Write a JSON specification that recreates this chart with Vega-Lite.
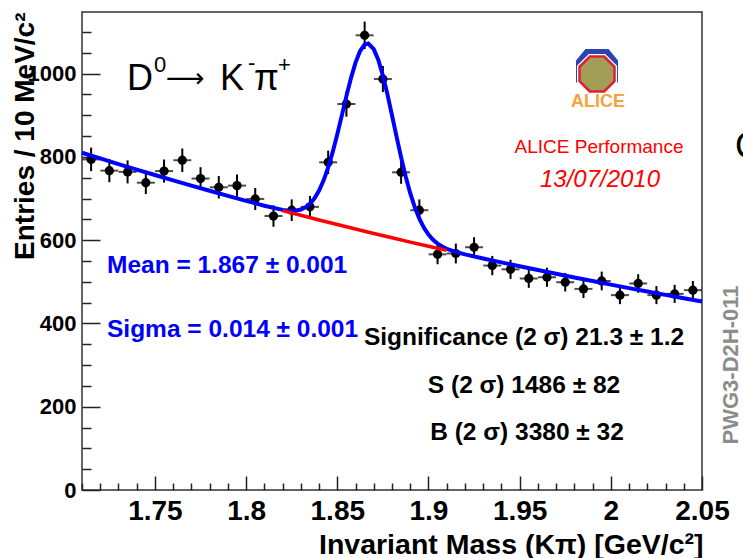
{
  "$schema": "https://vega.github.io/schema/vega-lite/v6.json",
  "width": 620,
  "height": 478,
  "autosize": "none",
  "padding": {"left": 82, "top": 12, "right": 41, "bottom": 68},
  "background": "white",
  "datasets": {
    "points": [
      {"m": 1.715, "n": 794, "err": 28.2},
      {"m": 1.725, "n": 767, "err": 27.7},
      {"m": 1.735, "n": 764, "err": 27.6},
      {"m": 1.745, "n": 738, "err": 27.2},
      {"m": 1.755, "n": 766, "err": 27.7},
      {"m": 1.765, "n": 792, "err": 28.1},
      {"m": 1.775, "n": 748, "err": 27.3},
      {"m": 1.785, "n": 727, "err": 27.0},
      {"m": 1.795, "n": 731, "err": 27.0},
      {"m": 1.805, "n": 699, "err": 26.4},
      {"m": 1.815, "n": 658, "err": 25.7},
      {"m": 1.825, "n": 672, "err": 25.9},
      {"m": 1.835, "n": 680, "err": 26.1},
      {"m": 1.845, "n": 787, "err": 28.1},
      {"m": 1.855, "n": 927, "err": 30.4},
      {"m": 1.865, "n": 1092, "err": 33.0},
      {"m": 1.875, "n": 987, "err": 31.4},
      {"m": 1.885, "n": 763, "err": 27.6},
      {"m": 1.895, "n": 672, "err": 25.9},
      {"m": 1.905, "n": 566, "err": 23.8},
      {"m": 1.915, "n": 568, "err": 23.8},
      {"m": 1.925, "n": 583, "err": 24.1},
      {"m": 1.935, "n": 539, "err": 23.2},
      {"m": 1.945, "n": 530, "err": 23.0},
      {"m": 1.955, "n": 508, "err": 22.5},
      {"m": 1.965, "n": 511, "err": 22.6},
      {"m": 1.975, "n": 499, "err": 22.3},
      {"m": 1.985, "n": 483, "err": 22.0},
      {"m": 1.995, "n": 502, "err": 22.4},
      {"m": 2.005, "n": 468, "err": 21.6},
      {"m": 2.015, "n": 496, "err": 22.3},
      {"m": 2.025, "n": 468, "err": 21.6},
      {"m": 2.035, "n": 471, "err": 21.7},
      {"m": 2.045, "n": 480, "err": 21.9}
    ],
    "fit": [
      {"m": 1.71, "f": 810}, {"m": 1.72, "f": 796.3}, {"m": 1.73, "f": 782.8}, {"m": 1.74, "f": 769.5},
      {"m": 1.75, "f": 756.5}, {"m": 1.76, "f": 743.6}, {"m": 1.77, "f": 731.0}, {"m": 1.78, "f": 718.6},
      {"m": 1.79, "f": 706.4}, {"m": 1.80, "f": 694.5}, {"m": 1.81, "f": 682.7}, {"m": 1.82, "f": 672.7},
      {"m": 1.8225, "f": 671.1}, {"m": 1.825, "f": 670.4}, {"m": 1.8275, "f": 671.1}, {"m": 1.83, "f": 673.5},
      {"m": 1.8325, "f": 678.7}, {"m": 1.835, "f": 687.3}, {"m": 1.8375, "f": 700.5}, {"m": 1.84, "f": 719.0},
      {"m": 1.8425, "f": 743.8}, {"m": 1.845, "f": 774.8}, {"m": 1.8475, "f": 812.0}, {"m": 1.85, "f": 854.2},
      {"m": 1.8525, "f": 899.8}, {"m": 1.855, "f": 945.9}, {"m": 1.8575, "f": 989.3}, {"m": 1.86, "f": 1026.5},
      {"m": 1.8625, "f": 1054.3}, {"m": 1.865, "f": 1069.8}, {"m": 1.867, "f": 1072.3}, {"m": 1.87, "f": 1058.8},
      {"m": 1.8725, "f": 1032.8}, {"m": 1.875, "f": 995.6}, {"m": 1.8775, "f": 950.2}, {"m": 1.88, "f": 900.1},
      {"m": 1.8825, "f": 848.5}, {"m": 1.885, "f": 798.8}, {"m": 1.8875, "f": 753.1}, {"m": 1.89, "f": 712.9},
      {"m": 1.8925, "f": 679.2}, {"m": 1.895, "f": 651.7}, {"m": 1.8975, "f": 630.0}, {"m": 1.90, "f": 613.5},
      {"m": 1.9025, "f": 601.0}, {"m": 1.905, "f": 591.8}, {"m": 1.9075, "f": 584.8}, {"m": 1.91, "f": 579.4},
      {"m": 1.9125, "f": 575.3}, {"m": 1.915, "f": 571.8}, {"m": 1.92, "f": 566.0}, {"m": 1.93, "f": 556.0},
      {"m": 1.94, "f": 546.6}, {"m": 1.95, "f": 537.3}, {"m": 1.96, "f": 528.2}, {"m": 1.97, "f": 519.3},
      {"m": 1.98, "f": 510.5}, {"m": 1.99, "f": 501.8}, {"m": 2.00, "f": 493.3}, {"m": 2.01, "f": 484.9},
      {"m": 2.02, "f": 476.7}, {"m": 2.03, "f": 468.6}, {"m": 2.04, "f": 460.7}, {"m": 2.05, "f": 452.9}
    ],
    "bkg": [
      {"m": 1.82, "b": 671.1}, {"m": 1.83, "b": 659.7}, {"m": 1.84, "b": 648.5}, {"m": 1.85, "b": 637.5},
      {"m": 1.86, "b": 626.7}, {"m": 1.87, "b": 616.1}, {"m": 1.88, "b": 605.7}, {"m": 1.89, "b": 595.4},
      {"m": 1.90, "b": 585.3}, {"m": 1.91, "b": 575.4}
    ],
    "one": [{}]
  },
  "resolve": {"axis": {"x": "independent", "y": "independent"}},
  "layer": [
    {
      "data": {"name": "points"},
      "mark": {"type": "errorbar", "color": "#000000", "thickness": 2},
      "encoding": {
        "x": {"field": "m", "type": "quantitative", "axis": null},
        "y": {"field": "n", "type": "quantitative", "axis": null},
        "yError": {"field": "err"}
      }
    },
    {
      "data": {"name": "points"},
      "mark": {"type": "tick", "orient": "horizontal", "size": 18, "thickness": 2, "color": "#000000"},
      "encoding": {
        "x": {"field": "m", "type": "quantitative",
          "axis": {"orient": "bottom", "values": [1.75, 1.8, 1.85, 1.9, 1.95, 2.0, 2.05], "labels": false, "domain": false, "grid": false, "ticks": true, "tickSize": -14, "tickWidth": 1.5, "tickColor": "#222222", "title": null}},
        "y": {"field": "n", "type": "quantitative",
          "axis": {"orient": "left", "values": [0, 200, 400, 600, 800, 1000], "labels": false, "domain": false, "grid": false, "ticks": true, "tickSize": -18, "tickWidth": 1.5, "tickColor": "#222222", "title": null}}
      }
    },
    {
      "data": {"name": "points"},
      "mark": {"type": "point", "filled": true, "shape": "circle", "size": 85, "color": "#000000", "opacity": 1},
      "encoding": {
        "x": {"field": "m", "type": "quantitative",
          "scale": {"domain": [1.71, 2.05], "nice": false, "zero": false},
          "axis": {"orient": "bottom", "values": [1.75, 1.8, 1.85, 1.9, 1.95, 2.0, 2.05], "format": "~g", "ticks": false, "domain": false, "grid": false,
            "labelFont": "Liberation Sans", "labelFontSize": 28, "labelFontWeight": "bold", "labelColor": "#000000", "labelPadding": 7, "labelFlush": false, "labelOverlap": false,
            "title": "Invariant Mass (Kπ) [GeV/c²]", "titleFont": "Liberation Sans", "titleFontSize": 28.5, "titleFontWeight": "bold", "titleColor": "#000000",
            "titleAlign": "right", "titleBaseline": "alphabetic", "titleX": 621, "titleY": 63}},
        "y": {"field": "n", "type": "quantitative",
          "scale": {"domain": [0, 1148], "nice": false, "zero": true},
          "axis": {"orient": "left", "values": [0, 200, 400, 600, 800, 1000], "format": "d", "ticks": false, "domain": false, "grid": false,
            "labelFont": "Liberation Sans", "labelFontSize": 22, "labelFontWeight": "bold", "labelColor": "#000000", "labelPadding": 6, "labelFlush": false, "labelOverlap": false,
            "title": "Entries / 10 MeV/c²", "titleFont": "Liberation Sans", "titleFontSize": 28, "titleFontWeight": "bold", "titleColor": "#000000",
            "titleAngle": 270, "titleAlign": "right", "titleBaseline": "alphabetic", "titleX": -49, "titleY": 0}}
      }
    },
    {
      "data": {"name": "fit"},
      "mark": {"type": "line", "color": "#0000ff", "strokeWidth": 4},
      "encoding": {
        "x": {"field": "m", "type": "quantitative",
          "axis": {"orient": "bottom", "values": [1.71, 1.72, 1.73, 1.74, 1.76, 1.77, 1.78, 1.79, 1.81, 1.82, 1.83, 1.84, 1.86, 1.87, 1.88, 1.89, 1.91, 1.92, 1.93, 1.94, 1.96, 1.97, 1.98, 1.99, 2.01, 2.02, 2.03, 2.04], "labels": false, "domain": false, "grid": false, "ticks": true, "tickSize": -7, "tickWidth": 1.5, "tickColor": "#222222", "title": null}},
        "y": {"field": "f", "type": "quantitative",
          "axis": {"orient": "left", "values": [50, 100, 150, 250, 300, 350, 450, 500, 550, 650, 700, 750, 850, 900, 950, 1050, 1100], "labels": false, "domain": false, "grid": false, "ticks": true, "tickSize": -9, "tickWidth": 1.5, "tickColor": "#222222", "title": null}}
      }
    },
    {
      "data": {"name": "bkg"},
      "mark": {"type": "line", "color": "#ff0000", "strokeWidth": 3.5},
      "encoding": {
        "x": {"field": "m", "type": "quantitative", "axis": null},
        "y": {"field": "b", "type": "quantitative", "axis": null}
      }
    },
    {
      "data": {"name": "one"},
      "mark": {"type": "text", "text": "D", "font": "Liberation Sans", "fontSize": 36, "align": "left", "baseline": "alphabetic", "color": "#000000"},
      "encoding": {"x": {"datum": 1.73468, "type": "quantitative", "axis": null}, "y": {"datum": 960.7, "type": "quantitative", "axis": null}}
    },
    {
      "data": {"name": "one"},
      "mark": {"type": "text", "text": "0", "font": "Liberation Sans", "fontSize": 22, "align": "left", "baseline": "alphabetic", "color": "#000000"},
      "encoding": {"x": {"datum": 1.74948, "type": "quantitative", "axis": null}, "y": {"datum": 1003.9, "type": "quantitative", "axis": null}}
    },
    {
      "data": {"name": "one"},
      "mark": {"type": "text", "text": "⟶", "font": "DejaVu Sans", "fontSize": 27, "align": "left", "baseline": "alphabetic", "color": "#000000"},
      "encoding": {"x": {"datum": 1.75607, "type": "quantitative", "axis": null}, "y": {"datum": 967.9, "type": "quantitative", "axis": null}}
    },
    {
      "data": {"name": "one"},
      "mark": {"type": "text", "text": "K", "font": "Liberation Sans", "fontSize": 36, "align": "left", "baseline": "alphabetic", "color": "#000000"},
      "encoding": {"x": {"datum": 1.78568, "type": "quantitative", "axis": null}, "y": {"datum": 960.7, "type": "quantitative", "axis": null}}
    },
    {
      "data": {"name": "one"},
      "mark": {"type": "text", "text": "-", "font": "Liberation Sans", "fontSize": 22, "align": "left", "baseline": "alphabetic", "color": "#000000"},
      "encoding": {"x": {"datum": 1.80103, "type": "quantitative", "axis": null}, "y": {"datum": 1008.7, "type": "quantitative", "axis": null}}
    },
    {
      "data": {"name": "one"},
      "mark": {"type": "text", "text": "π", "font": "Liberation Sans", "fontSize": 36, "align": "left", "baseline": "alphabetic", "color": "#000000"},
      "encoding": {"x": {"datum": 1.80432, "type": "quantitative", "axis": null}, "y": {"datum": 960.7, "type": "quantitative", "axis": null}}
    },
    {
      "data": {"name": "one"},
      "mark": {"type": "text", "text": "+", "font": "Liberation Sans", "fontSize": 22, "align": "left", "baseline": "alphabetic", "color": "#000000"},
      "encoding": {"x": {"datum": 1.81749, "type": "quantitative", "axis": null}, "y": {"datum": 1003.9, "type": "quantitative", "axis": null}}
    },
    {
      "data": {"name": "one"},
      "mark": {"type": "text", "text": "Mean = 1.867 ± 0.001", "font": "Liberation Sans", "fontSize": 24.5, "fontWeight": "bold", "align": "left", "baseline": "alphabetic", "color": "#0000ff"},
      "encoding": {"x": {"datum": 1.72371, "type": "quantitative", "axis": null}, "y": {"datum": 521.2, "type": "quantitative", "axis": null}}
    },
    {
      "data": {"name": "one"},
      "mark": {"type": "text", "text": "Sigma = 0.014 ± 0.001", "font": "Liberation Sans", "fontSize": 24.5, "fontWeight": "bold", "align": "left", "baseline": "alphabetic", "color": "#0000ff"},
      "encoding": {"x": {"datum": 1.72371, "type": "quantitative", "axis": null}, "y": {"datum": 367.4, "type": "quantitative", "axis": null}}
    },
    {
      "data": {"name": "one"},
      "mark": {"type": "text", "text": "Significance (2 σ) 21.3 ± 1.2", "font": "Liberation Sans", "fontSize": 24.5, "fontWeight": "bold", "align": "center", "baseline": "alphabetic", "color": "#000000"},
      "encoding": {"x": {"datum": 1.95239, "type": "quantitative", "axis": null}, "y": {"datum": 348.2, "type": "quantitative", "axis": null}}
    },
    {
      "data": {"name": "one"},
      "mark": {"type": "text", "text": "S (2 σ) 1486 ± 82", "font": "Liberation Sans", "fontSize": 24.5, "fontWeight": "bold", "align": "center", "baseline": "alphabetic", "color": "#000000"},
      "encoding": {"x": {"datum": 1.95239, "type": "quantitative", "axis": null}, "y": {"datum": 233.0, "type": "quantitative", "axis": null}}
    },
    {
      "data": {"name": "one"},
      "mark": {"type": "text", "text": "B (2 σ) 3380 ± 32", "font": "Liberation Sans", "fontSize": 24.5, "fontWeight": "bold", "align": "center", "baseline": "alphabetic", "color": "#000000"},
      "encoding": {"x": {"datum": 1.95404, "type": "quantitative", "axis": null}, "y": {"datum": 120.1, "type": "quantitative", "axis": null}}
    },
    {
      "data": {"name": "one"},
      "mark": {"type": "text", "text": "ALICE Performance", "font": "Liberation Sans", "fontSize": 19, "align": "center", "baseline": "alphabetic", "color": "#ff0000"},
      "encoding": {"x": {"datum": 1.99352, "type": "quantitative", "axis": null}, "y": {"datum": 809.4, "type": "quantitative", "axis": null}}
    },
    {
      "data": {"name": "one"},
      "mark": {"type": "text", "text": "13/07/2010", "font": "Liberation Sans", "fontSize": 24, "fontStyle": "italic", "align": "center", "baseline": "alphabetic", "color": "#ff0000"},
      "encoding": {"x": {"datum": 1.99407, "type": "quantitative", "axis": null}, "y": {"datum": 727.7, "type": "quantitative", "axis": null}}
    },
    {
      "data": {"name": "one"},
      "mark": {"type": "point", "filled": true, "shape": "M -1 0.6 L -1 -0.45 L -0.55 -1 L 0.55 -1 L 1 -0.45 L 1 0.6 Z", "size": 1764, "color": "#2a45b0", "opacity": 1},
      "encoding": {"x": {"datum": 1.99242, "type": "quantitative", "axis": null}, "y": {"datum": 1008.7, "type": "quantitative", "axis": null}}
    },
    {
      "data": {"name": "one"},
      "mark": {"type": "point", "filled": true, "shape": "M -0.41 -1 L 0.41 -1 L 1 -0.41 L 1 0.41 L 0.41 1 L -0.41 1 L -1 0.41 L -1 -0.41 Z", "size": 1600, "color": "#ffffff", "opacity": 1},
      "encoding": {"x": {"datum": 1.99242, "type": "quantitative", "axis": null}, "y": {"datum": 999.1, "type": "quantitative", "axis": null}}
    },
    {
      "data": {"name": "one"},
      "mark": {"type": "point", "filled": true, "shape": "M -0.41 -1 L 0.41 -1 L 1 -0.41 L 1 0.41 L 0.41 1 L -0.41 1 L -1 0.41 L -1 -0.41 Z", "size": 1225, "fill": "#a39d55", "stroke": "#e02030", "strokeWidth": 2.5, "opacity": 1},
      "encoding": {"x": {"datum": 1.99242, "type": "quantitative", "axis": null}, "y": {"datum": 999.1, "type": "quantitative", "axis": null}}
    },
    {
      "data": {"name": "one"},
      "mark": {"type": "text", "text": "ALICE", "font": "Liberation Sans", "fontSize": 18, "fontWeight": "bold", "align": "center", "baseline": "alphabetic", "color": "#f5a33a"},
      "encoding": {"x": {"datum": 1.99297, "type": "quantitative", "axis": null}, "y": {"datum": 919.8, "type": "quantitative", "axis": null}}
    },
    {
      "data": {"name": "one"},
      "mark": {"type": "text", "text": "PWG3-D2H-011", "font": "Liberation Sans", "fontSize": 22, "fontWeight": "bold", "angle": 270, "align": "center", "baseline": "middle", "color": "#8c8c8c"},
      "encoding": {"x": {"datum": 2.06591, "type": "quantitative", "axis": null}, "y": {"datum": 300.2, "type": "quantitative", "axis": null}}
    },
    {
      "data": {"name": "one"},
      "mark": {"type": "text", "text": "C", "font": "Liberation Sans", "fontSize": 36, "align": "left", "baseline": "alphabetic", "color": "#000000"},
      "encoding": {"x": {"datum": 2.06810, "type": "quantitative", "axis": null}, "y": {"datum": 797.3, "type": "quantitative", "axis": null}}
    }
  ],
  "config": {
    "view": {"stroke": "#333333", "strokeWidth": 1.5},
    "font": "Liberation Sans"
  }
}
